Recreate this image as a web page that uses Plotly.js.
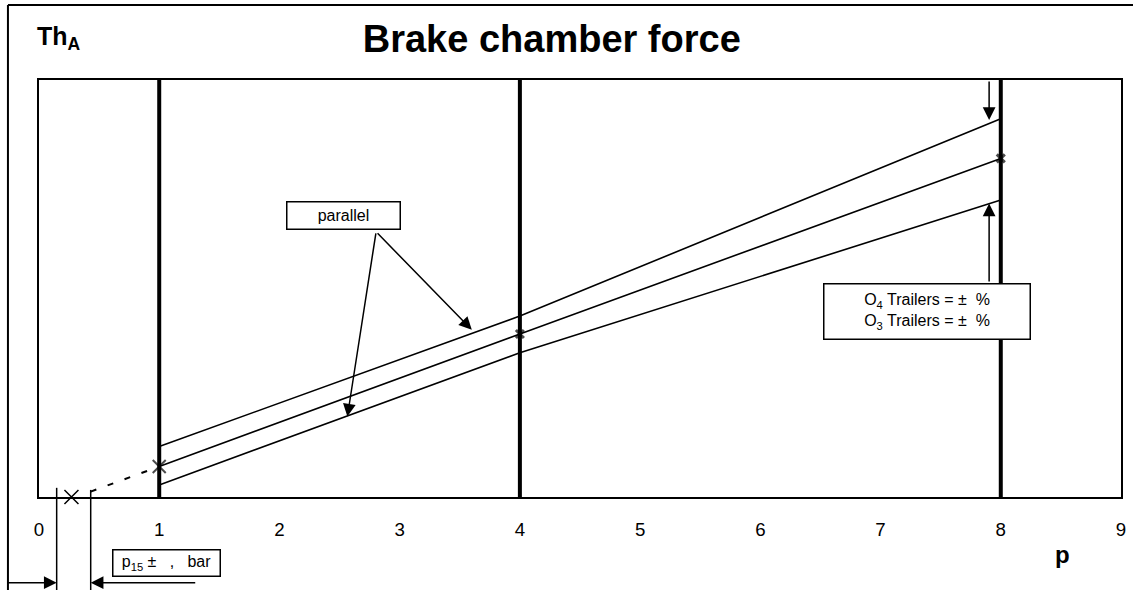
<!DOCTYPE html>
<html>
<head>
<meta charset="utf-8">
<script src="https://cdn.plot.ly/plotly-3.0.1.min.js"></script>
<style>
  html, body { margin: 0; padding: 0; background: #fff; }
  #chart { width: 1133px; height: 590px; }
</style>
</head>
<body>
<div id="chart"></div>
<script>
// pressure p (bar) at the three reference points
const pressure = [1, 4, 8];
// brake chamber force ThA (arbitrary units)
const forceUpper = [1.21, 4.34, 9.07];
const forceNominal = [0.73, 3.91, 8.12];
const forceLower = [0.29, 3.46, 7.12];
// dashed extension of the nominal line towards p15
const extensionP = [0.43, 1];
const extensionForce = [0.13, 0.73];
// intercept with the p axis
const interceptP = [0.27];
const interceptForce = [0];
// dimension lines for the p15 tolerance
const p15Limits = [0.147, 0.43];

const tickVals = [0, 1, 2, 3, 4, 5, 6, 7, 8, 9];
const tickText = ['0', '1', '2', '3', '4', '5', '6', '7', '8', '9'];

const FONT = 'Liberation Sans, Arial, sans-serif';
const thin = { color: '#000', width: 1.6 };

const traces = [
    { x: pressure, y: forceUpper, mode: 'lines', line: thin, hoverinfo: 'skip' },
    { x: pressure, y: forceLower, mode: 'lines', line: thin, hoverinfo: 'skip' },
    { x: pressure, y: forceNominal, mode: 'lines+markers', line: thin, cliponaxis: false,
      marker: { symbol: 'x-thin', size: [13, 8, 8], color: '#000',
                line: { color: '#000', width: [2, 3, 3] } },
      hoverinfo: 'skip' },
    { x: extensionP, y: extensionForce, mode: 'lines',
      line: { color: '#000', width: 2, dash: '6px,12px' }, hoverinfo: 'skip' },
    { x: interceptP, y: interceptForce, mode: 'markers', cliponaxis: false,
      marker: { symbol: 'x-thin', size: 14, line: { color: '#000', width: 1.5 } },
      hoverinfo: 'skip' }
];

// thick verticals at the reference pressures
const shapes = pressure.map(p => ({
    type: 'line', xref: 'x', yref: 'paper', x0: p, x1: p, y0: 0, y1: 1,
    line: { color: '#000', width: 4 }, layer: 'below'
}));

// dimension verticals under the axis
p15Limits.forEach((p, i) => {
    shapes.push({
        type: 'line', xref: 'x', yref: 'paper', x0: p, x1: p,
        y0: i === 0 ? 0.022 : 0.017, y1: -0.23,
        line: { color: '#000', width: 1.5 }
    });
});

// outer open frame (top and left)
shapes.push({ type: 'line', xref: 'paper', yref: 'paper', x0: -0.0287, x1: 1.02, y0: 1.18, y1: 1.18,
              line: { color: '#000', width: 2 } });
shapes.push({ type: 'line', xref: 'paper', yref: 'paper', x0: -0.0287, x1: -0.0287, y0: 1.18, y1: -0.25,
              line: { color: '#000', width: 2 } });

const arrow = (x, y, ax, ay) => ({
    x: x, y: y, ax: ax, ay: ay, xref: 'x', yref: 'y', axref: 'x', ayref: 'y',
    text: '', showarrow: true, arrowhead: 2, arrowsize: 1.7, arrowwidth: 1.5,
    arrowcolor: '#000', standoff: 0, startstandoff: 0
});

const boxed = { bgcolor: '#fff', bordercolor: '#000', borderwidth: 1.5, borderpad: 0 };

const annotations = [
    { text: 'Th<sub>A</sub>', xref: 'paper', yref: 'paper', x: -0.004, y: 1.1, xanchor: 'left', yanchor: 'middle',
      showarrow: false, font: { family: FONT, size: 25, color: '#000', weight: 'bold' } },
    { text: '<b>p</b>', xref: 'x', yref: 'paper', x: 8.51, y: -0.139, xanchor: 'center', yanchor: 'middle',
      showarrow: false, font: { family: FONT, size: 24, color: '#000' } },

    // "parallel" label and its arrows
    Object.assign({ text: 'parallel', xref: 'x', yref: 'y', x: 2.535, y: 6.74, width: 112, height: 26,
      showarrow: false, font: { family: FONT, size: 16, color: '#000' } }, boxed),
    arrow(3.60, 4.01, 2.804, 6.36),
    arrow(2.565, 1.93, 2.804, 6.36),

    // tolerance arrows at p = 8
    arrow(7.903, 9.04, 7.903, 10),
    arrow(7.903, 7.04, 7.903, 5.13),
    Object.assign({ text: 'O<sub>4</sub> Trailers = \u00b1\u00a0 %<br>O<sub>3</sub> Trailers = \u00b1\u00a0 %',
      xref: 'x', yref: 'y', x: 7.388, y: 4.45, width: 205, height: 54, align: 'center',
      showarrow: false, font: { family: FONT, size: 16, color: '#000' } }, boxed),

    // p15 dimension
    { x: p15Limits[0], y: -0.2055, xref: 'x', yref: 'paper', ax: -0.27, ay: 0, axref: 'x', ayref: 'pixel',
      text: '', showarrow: true, arrowhead: 2, arrowsize: 1.7, arrowwidth: 1.5, arrowcolor: '#000', standoff: 0 },
    { x: p15Limits[1], y: -0.2055, xref: 'x', yref: 'paper', ax: 1.312, ay: 0, axref: 'x', ayref: 'pixel',
      text: '', showarrow: true, arrowhead: 2, arrowsize: 1.7, arrowwidth: 1.5, arrowcolor: '#000', standoff: 0 },
    Object.assign({ text: 'p<sub>15</sub> \u00b1\u00a0\u00a0\u00a0,\u00a0\u00a0 bar', xref: 'x', yref: 'paper',
      x: 1.062, y: -0.158, xanchor: 'center', yanchor: 'middle', width: 106, height: 25,
      showarrow: false, font: { family: FONT, size: 16, color: '#000' } }, boxed)
];

const layout = {
    width: 1133,
    height: 590,
    margin: { l: 39, r: 12, t: 80, b: 93 },
    paper_bgcolor: '#fff',
    plot_bgcolor: '#fff',
    showlegend: false,
    font: { family: FONT, color: '#000' },
    title: {
        text: '<b>Brake chamber force</b>',
        font: { family: FONT, size: 38, color: '#000' },
        xref: 'container', yref: 'container', x: 0.487, y: 0.935,
        xanchor: 'center', yanchor: 'middle'
    },
    xaxis: {
        range: [0, 9],
        tickvals: tickVals,
        ticktext: tickText,
        ticks: '',
        ticklabelstandoff: 15,
        tickfont: { family: FONT, size: 18.7, color: '#000' },
        showgrid: false,
        zeroline: false,
        showline: true,
        mirror: true,
        linecolor: '#000',
        linewidth: 2,
        fixedrange: true
    },
    yaxis: {
        range: [0, 10],
        showticklabels: false,
        ticks: '',
        showgrid: false,
        zeroline: false,
        showline: true,
        mirror: true,
        linecolor: '#000',
        linewidth: 2,
        fixedrange: true
    },
    shapes: shapes,
    annotations: annotations
};

Plotly.newPlot('chart', traces, layout, { displayModeBar: false, staticPlot: true });
</script>
</body>
</html>
